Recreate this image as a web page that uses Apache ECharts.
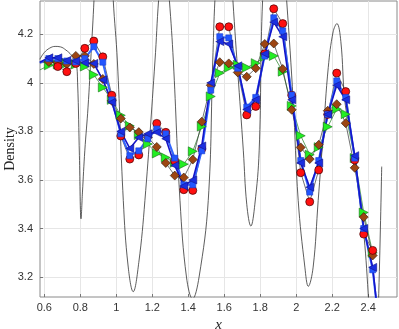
<!DOCTYPE html>
<html>
<head>
<meta charset="utf-8">
<script src="https://cdn.jsdelivr.net/npm/echarts@6/dist/echarts.min.js"></script>
<style>
  html, body { margin: 0; padding: 0; background: #fff; }
  #chart { width: 399px; height: 329px; }
</style>
</head>
<body>
<div id="chart"></div>
<script>
// sample positions shared by the marker series
var xs = [0.575, 0.625, 0.675, 0.725, 0.775, 0.825, 0.875, 0.925, 0.975, 1.025,
  1.075, 1.125, 1.175, 1.225, 1.275, 1.325, 1.375, 1.425, 1.475, 1.525,
  1.575, 1.625, 1.675, 1.725, 1.775, 1.825, 1.875, 1.925, 1.975, 2.025,
  2.075, 2.125, 2.175, 2.225, 2.275, 2.325, 2.375, 2.425, 2.475]

var redVals = [null, null, 4.067, 4.046, 4.080, 4.142, 4.172, 4.107, 3.949, 3.781,
  3.686, 3.703, null, 3.833, 3.796, 3.678, 3.560, 3.557, 3.728, null,
  4.231, 4.231, null, 3.868, 3.903, 4.12, 4.305, 4.244, 3.949, 3.630,
  3.510, 3.641, 3.87, 4.040, 3.964, 3.682, 3.377, 3.310, null]

var brownVals = [4.082, 4.086, 4.084, 4.077, 4.111, 4.111, 4.078, 4.016, 3.926, 3.853,
  3.816, 3.797, 3.775, 3.736, 3.670, 3.618, 3.610, 3.684, 3.840, 3.99,
  4.085, 4.080, 4.043, 4.025, 4.060, 4.160, 4.162, 4.057, 3.889, 3.734,
  3.686, 3.745, 3.885, 3.912, 3.834, 3.65, 3.447, 3.289, null]

var greenVals = [4.053, 4.072, 4.076, 4.080, 4.076, 4.067, 4.033, 3.981, 3.93, 3.866,
  3.823, 3.785, 3.748, 3.709, 3.692, 3.671, 3.665, 3.718, 3.82, 3.944,
  4.040, 4.062, 4.074, 4.063, 4.081, 4.107, 4.111, 4.046, 3.905, 3.782,
  3.704, 3.735, 3.819, 3.892, 3.871, 3.69, 3.466, 3.30, null]

var blueSqVals = [4.082, 4.100, 4.100, 4.090, 4.086, 4.100, 4.149, 4.085, 3.930, 3.790,
  3.700, 3.720, 3.770, 3.810, 3.790, 3.690, 3.580, 3.580, 3.720, 3.970,
  4.190, 4.185, 4.060, 3.900, 3.940, 4.110, 4.268, 4.214, 3.950, 3.680,
  3.550, 3.680, 3.870, 4.008, 3.940, 3.690, 3.400, 3.230, 2.900]

var blueTriVals = [4.085, 4.103, 4.103, 4.092, 4.090, 4.082, 4.080, 4.012, 3.920, 3.800,
  3.730, 3.775, 3.790, 3.796, 3.770, 3.660, 3.575, 3.600, 3.740, 4.000,
  4.170, 4.160, 4.070, 3.890, 3.930, 4.120, 4.250, 4.190, 3.930, 3.670,
  3.570, 3.670, 3.870, 3.990, 3.930, 3.700, 3.400, 3.240, 2.900]

// oscillating interpolant (black thin line)
var curveX = [0.575, 0.60, 0.63, 0.66, 0.69, 0.72, 0.75, 0.775, 0.785, 0.795,
  0.804, 0.812, 0.825, 0.843, 0.86, 0.876, 0.90, 0.93, 0.96, 0.983,
  1.006, 1.039, 1.065, 1.094, 1.125, 1.159, 1.215, 1.235, 1.265, 1.295,
  1.317, 1.354, 1.39, 1.424, 1.46, 1.511, 1.536, 1.548, 1.59, 1.63,
  1.648, 1.706, 1.725, 1.748, 1.77, 1.794, 1.813, 1.85, 1.90, 1.947,
  1.983, 2.011, 2.048, 2.067, 2.094, 2.122, 2.15, 2.178, 2.205, 2.226,
  2.248, 2.27, 2.30, 2.326, 2.372, 2.40, 2.43, 2.475]
var curveY = [4.097, 4.125, 4.143, 4.150, 4.148, 4.135, 4.115, 4.09, 4.0, 3.7,
  3.44, 3.55, 3.72, 3.9, 4.12, 4.34, 4.75, 4.9, 4.7, 4.34,
  4.09, 3.515, 3.25, 3.14, 3.26, 3.515, 4.09, 4.34, 4.6, 4.34,
  4.09, 3.515, 3.2, 3.11, 3.2, 3.515, 4.09, 4.34, 4.9, 4.6,
  4.34, 3.72, 3.5, 3.41, 3.5, 3.72, 4.34, 4.7, 4.8, 4.337,
  3.926, 3.515, 3.241, 3.162, 3.241, 3.515, 3.789, 4.063, 4.21, 4.244,
  4.17, 3.926, 3.80, 3.68, 3.405, 3.13, 2.70, 3.655]

var xTicks = [0.6, 0.8, 1, 1.2, 1.4, 1.6, 1.8, 2, 2.2, 2.4]
var yTicks = [3.2, 3.4, 3.6, 3.8, 4, 4.2]

function pairs(xv, yv) {
  var out = []
  for (var i = 0; i < xv.length; i++) out.push([xv[i], yv[i]])
  return out
}

var chart = echarts.init(document.getElementById('chart'))
var option = {
  animation: false,
  backgroundColor: '#fff',
  grid: {
    left: 40, right: 2, top: 1, bottom: 32,
    outerBoundsMode: 'none',
    containLabel: false,
    show: true, borderColor: '#8a8a8a', borderWidth: 1
  },
  xAxis: {
    type: 'value',
    min: 0.576,
    max: 2.56,
    name: 'x',
    nameLocation: 'middle',
    nameGap: 14,
    nameTextStyle: { fontFamily: 'Liberation Serif', fontStyle: 'italic', fontSize: 15, color: '#222' },
    axisLine: { show: false },
    axisTick: { show: true, inside: true, length: 3, customValues: xTicks, lineStyle: { color: '#777' } },
    axisLabel: { customValues: xTicks, margin: 5, fontFamily: 'Liberation Sans', fontSize: 11, color: '#333' },
    splitLine: { show: true, lineStyle: { color: '#e6e6e6', width: 1 } }
  },
  yAxis: {
    type: 'value',
    min: 3.118,
    max: 4.337,
    name: 'Density',
    nameLocation: 'middle',
    nameRotate: 90,
    nameGap: 23,
    nameMoveOverlap: false,
    nameTextStyle: { fontFamily: 'Liberation Serif', fontSize: 14, color: '#222' },
    axisLine: { show: false },
    axisTick: { show: true, inside: true, length: 3, customValues: yTicks, lineStyle: { color: '#777' } },
    axisLabel: { customValues: yTicks, margin: 7, fontFamily: 'Liberation Sans', fontSize: 11, color: '#333' },
    splitLine: { show: true, lineStyle: { color: '#e6e6e6', width: 1 } }
  },
  series: [
    {
      name: 'interp',
      type: 'line',
      data: pairs(curveX, curveY),
      smooth: 0.4,
      showSymbol: false,
      lineStyle: { color: '#333', width: 0.8 }
    },
    {
      name: 'green',
      type: 'line',
      data: pairs(xs, greenVals),
      symbol: 'triangle',
      symbolRotate: -90,
      symbolSize: 9,
      lineStyle: { color: '#3a8f3a', width: 0.8 },
      itemStyle: { color: '#22ee22', borderColor: '#1d6b1d', borderWidth: 0.6 }
    },
    {
      name: 'brown',
      type: 'line',
      data: pairs(xs, brownVals),
      symbol: 'diamond',
      symbolSize: 9,
      lineStyle: { color: '#333', width: 0.7 },
      itemStyle: { color: '#9c4512', borderColor: '#2a1506', borderWidth: 0.6 }
    },
    {
      name: 'red',
      type: 'line',
      data: pairs(xs, redVals),
      connectNulls: true,
      symbol: 'circle',
      symbolSize: 8,
      lineStyle: { color: '#333', width: 0.7 },
      itemStyle: { color: '#ff1010', borderColor: '#400', borderWidth: 0.7 }
    },
    {
      name: 'blueSq',
      type: 'line',
      data: pairs(xs, blueSqVals),
      symbol: 'rect',
      symbolSize: 6,
      lineStyle: { color: '#3366ff', width: 2 },
      itemStyle: { color: '#2255ff', borderColor: '#1a3fd0', borderWidth: 0.6 }
    },
    {
      name: 'blueTri',
      type: 'line',
      data: pairs(xs, blueTriVals),
      symbol: 'triangle',
      symbolRotate: 90,
      symbolSize: 8,
      lineStyle: { color: '#1515c8', width: 1.6 },
      itemStyle: { color: '#1a2ee0', borderColor: '#10108a', borderWidth: 0.6 }
    }
  ]
}
chart.setOption(option)
</script>
</body>
</html>
